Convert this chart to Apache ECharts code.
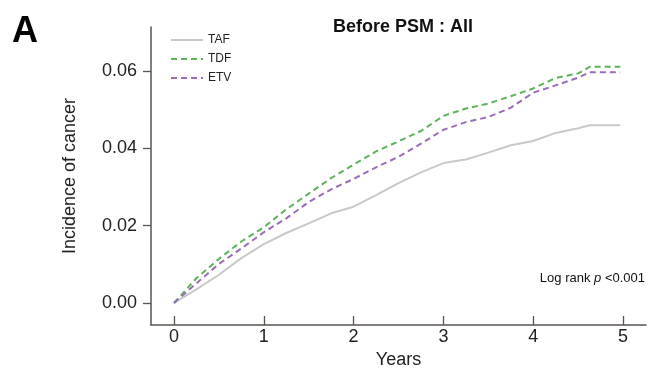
<!DOCTYPE html>
<html><head><meta charset="utf-8">
<script src="https://cdn.jsdelivr.net/npm/echarts@6/dist/echarts.min.js"></script>
<style>html,body{margin:0;padding:0;background:#fff}#c{width:649px;height:372px}</style>
</head><body><div id="c"></div>
<script>
const times = [0,0.25,0.5,0.75,1,1.25,1.5,1.75,2,2.25,2.5,2.75,3,3.25,3.5,3.75,4,4.25,4.5,4.63,4.97];
const tdf = [0,0.0064,0.0114,0.0159,0.0196,0.0242,0.0283,0.0323,0.0358,0.0392,0.0418,0.0445,0.0484,0.0503,0.0516,0.0535,0.0555,0.0582,0.0594,0.0611,0.0611];
const etv = [0,0.0051,0.0101,0.0141,0.0183,0.0219,0.0261,0.0294,0.0321,0.0351,0.0378,0.0412,0.0448,0.0468,0.0481,0.0505,0.0544,0.0563,0.0583,0.0597,0.0597];
const taf = [0,0.0035,0.0073,0.0116,0.0152,0.0181,0.0206,0.0232,0.0249,0.0279,0.0310,0.0338,0.0362,0.0371,0.0389,0.0408,0.0419,0.0440,0.0452,0.0460,0.0460];
const xTicks = [0,1,2,3,4,5];
const yTicks = [0,0.02,0.04,0.06];
const seriesNames = ['TAF','TDF','ETV'];

const pair = arr => times.map((t,i)=>[t,arr[i]]);
const axisCol = '#5a5350';
const font = 'Liberation Sans, Arial, sans-serif';
const chart = echarts.init(document.getElementById('c'), null, {renderer:'canvas'});
chart.setOption({
  animation:false,
  backgroundColor:'#fff',
  grid:{left:151,right:3,top:27,bottom:47,outerBoundsMode:'none',containLabel:false},
  title:{text:'Before PSM : All',left:398,top:13,textAlign:'center',
    textStyle:{fontFamily:font,fontSize:18,fontWeight:'bold',color:'#111'}},
  legend:{orient:'vertical',left:165,top:29,itemWidth:32,itemHeight:12,itemGap:7,
    data:seriesNames,itemStyle:{opacity:0},
    textStyle:{fontFamily:font,fontSize:12,color:'#222'}},
  xAxis:{type:'value',min:-0.256,max:5.256,
    name:'Years',nameLocation:'middle',nameGap:26,
    nameTextStyle:{fontFamily:font,fontSize:18,color:'#222'},
    splitLine:{show:false},
    axisLine:{show:true,onZero:false,lineStyle:{color:axisCol,width:1.5}},
    axisTick:{show:true,inside:true,length:9,customValues:xTicks,lineStyle:{color:axisCol,width:1.3}},
    axisLabel:{customValues:xTicks,fontFamily:font,fontSize:18,color:'#222',margin:3}},
  yAxis:{type:'value',min:-0.0057,max:0.0714,
    name:'Incidence of cancer',nameLocation:'middle',nameGap:72,
    nameTextStyle:{fontFamily:font,fontSize:18,color:'#222'},
    splitLine:{show:false},
    axisLine:{show:true,onZero:false,lineStyle:{color:axisCol,width:1.5}},
    axisTick:{show:true,length:8,customValues:yTicks,lineStyle:{color:axisCol,width:1.3}},
    axisLabel:{customValues:yTicks,fontFamily:font,fontSize:18,color:'#222',margin:14,
      formatter:v=>v.toFixed(2)}},
  graphic:[
    {type:'text',left:12,top:14,style:{text:'A',font:'bold 36px Liberation Sans, Arial, sans-serif',fill:'#000'}},
    {type:'text',right:4,top:272,style:{
      text:'{n|Log rank }{i|p}{n| <0.001}',
      rich:{n:{fontFamily:font,fontSize:13,fill:'#111'},i:{fontFamily:font,fontSize:13,fontStyle:'italic',fill:'#111'}}}}
  ],
  series:[
    {name:'TAF',type:'line',data:pair(taf),showSymbol:false,symbol:'none',smooth:false,
      lineStyle:{color:'#c9c9c9',width:2},itemStyle:{color:'#c9c9c9'}},
    {name:'TDF',type:'line',data:pair(tdf),showSymbol:false,symbol:'none',
      lineStyle:{color:'#5cb35a',width:2,type:[6,4]},itemStyle:{color:'#5cb35a'}},
    {name:'ETV',type:'line',data:pair(etv),showSymbol:false,symbol:'none',
      lineStyle:{color:'#9b6cb8',width:2,type:[6,4]},itemStyle:{color:'#9b6cb8'}}
  ]
});
</script></body></html>
